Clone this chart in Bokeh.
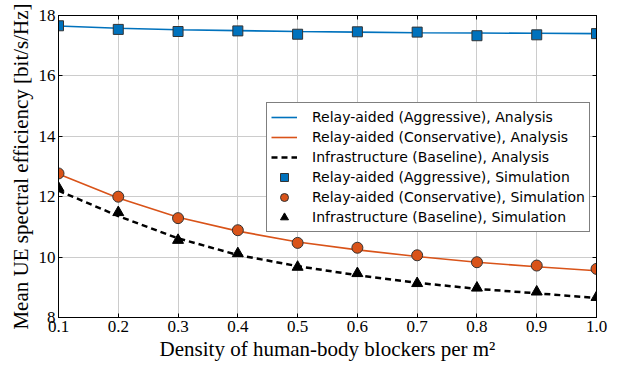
from bokeh.plotting import figure
from bokeh.models import (Legend, LegendItem, FixedTicker, PrintfTickFormatter,
                          LinearAxis, Range1d, CustomJSTickFormatter)
from bokeh.embed import file_html
from bokeh.resources import INLINE

density = [0.1, 0.2, 0.3, 0.4, 0.5, 0.6, 0.7, 0.8, 0.9, 1.0]

aggr_analysis = [17.65, 17.58, 17.53, 17.50, 17.47, 17.45, 17.43, 17.42, 17.41, 17.40]
cons_analysis = [12.75, 11.96, 11.32, 10.86, 10.50, 10.24, 10.02, 9.83, 9.68, 9.55]
base_analysis = [12.20, 11.36, 10.62, 10.07, 9.70, 9.40, 9.15, 8.95, 8.80, 8.65]

aggr_sim = [17.66, 17.54, 17.47, 17.49, 17.38, 17.46, 17.45, 17.33, 17.36, 17.40]
cons_sim = [12.77, 12.00, 11.29, 10.89, 10.47, 10.31, 10.06, 9.83, 9.72, 9.61]
base_sim = [12.29, 11.48, 10.56, 10.12, 9.67, 9.46, 9.13, 8.98, 8.85, 8.67]

x_ticks = [0.1, 0.2, 0.3, 0.4, 0.5, 0.6, 0.7, 0.8, 0.9, 1.0]
y_ticks = [8, 10, 12, 14, 16, 18]

labels = [
    "Relay-aided (Aggressive), Analysis",
    "Relay-aided (Conservative), Analysis",
    "Infrastructure (Baseline), Analysis",
    "Relay-aided (Aggressive), Simulation",
    "Relay-aided (Conservative), Simulation",
    "Infrastructure (Baseline), Simulation",
]

BLUE = "#0072BD"
ORANGE = "#D95319"
SERIF = "Liberation Serif"

p = figure(width=613, height=363, output_backend="svg", toolbar_location=None,
           x_range=Range1d(0.1, 1.0), y_range=Range1d(8, 18),
           min_border_left=58, min_border_right=17, min_border_top=15,
           min_border_bottom=46)

p.outline_line_color = "black"
p.outline_line_width = 1

r1 = p.line(density, aggr_analysis, line_color=BLUE, line_width=1.6)
r2 = p.line(density, cons_analysis, line_color=ORANGE, line_width=1.6)
r3 = p.line(density, base_analysis, line_color="black", line_width=2.5, line_dash="6 4")
r4 = p.scatter(density, aggr_sim, marker="square", size=10, fill_color=BLUE,
               line_color="#333333", line_width=1)
r5 = p.scatter(density, cons_sim, marker="circle", size=11, fill_color=ORANGE,
               line_color="#333333", line_width=1)
r6 = p.scatter(density, base_sim, marker="triangle", size=11, fill_color="black",
               line_color="black", line_width=1)

for ax in (p.xaxis[0], p.yaxis[0]):
    ax.major_label_text_font = SERIF
    ax.major_label_text_font_size = "17px"
    ax.major_label_text_color = "black"
    ax.axis_label_text_font = SERIF
    ax.axis_label_text_font_size = "21px"
    ax.axis_label_text_font_style = "normal"
    ax.axis_label_text_color = "black"
    ax.major_tick_in = 4
    ax.major_tick_out = 0
    ax.minor_tick_in = 0
    ax.minor_tick_out = 0
    ax.axis_line_color = "black"
    ax.major_tick_line_color = "black"
    ax.major_label_standoff = 3

p.xaxis[0].ticker = FixedTicker(ticks=x_ticks)
p.yaxis[0].ticker = FixedTicker(ticks=y_ticks)
p.xaxis[0].formatter = PrintfTickFormatter(format="%.1f")
p.yaxis[0].formatter = PrintfTickFormatter(format="%d")
p.xaxis[0].axis_label = "Density of human-body blockers per m\u00b2"
p.yaxis[0].axis_label = "Mean UE spectral efficiency [bit/s/Hz]"
p.xaxis[0].axis_label_standoff = 2
p.yaxis[0].axis_label_standoff = 3

for loc, ticks in (("right", y_ticks), ("above", x_ticks)):
    ax = LinearAxis(ticker=FixedTicker(ticks=ticks),
                    formatter=CustomJSTickFormatter(code="return '';"),
                    major_tick_in=4, major_tick_out=0, minor_tick_in=0, minor_tick_out=0,
                    axis_line_color="black", major_label_standoff=0)
    p.add_layout(ax, loc)

p.grid.grid_line_color = "#cccccc"
p.grid.grid_line_width = 1
p.xgrid.ticker = FixedTicker(ticks=x_ticks)
p.ygrid.ticker = FixedTicker(ticks=y_ticks)

legend = Legend(items=[LegendItem(label=l, renderers=[r]) for l, r in
                       zip(labels, [r1, r2, r3, r4, r5, r6])],
                location=(208, 85))
legend.label_text_font = "DejaVu Sans"
legend.label_text_font_size = "14px"
legend.label_text_color = "black"
legend.label_height = 20
legend.glyph_height = 20
legend.glyph_width = 26
legend.label_standoff = 15
legend.spacing = 0
legend.padding = 4
legend.margin = 0
legend.border_line_color = "black"
legend.border_line_width = 1
legend.background_fill_color = "white"
legend.background_fill_alpha = 1
p.add_layout(legend, "center")

open("out.html", "w").write(file_html(p, INLINE))
